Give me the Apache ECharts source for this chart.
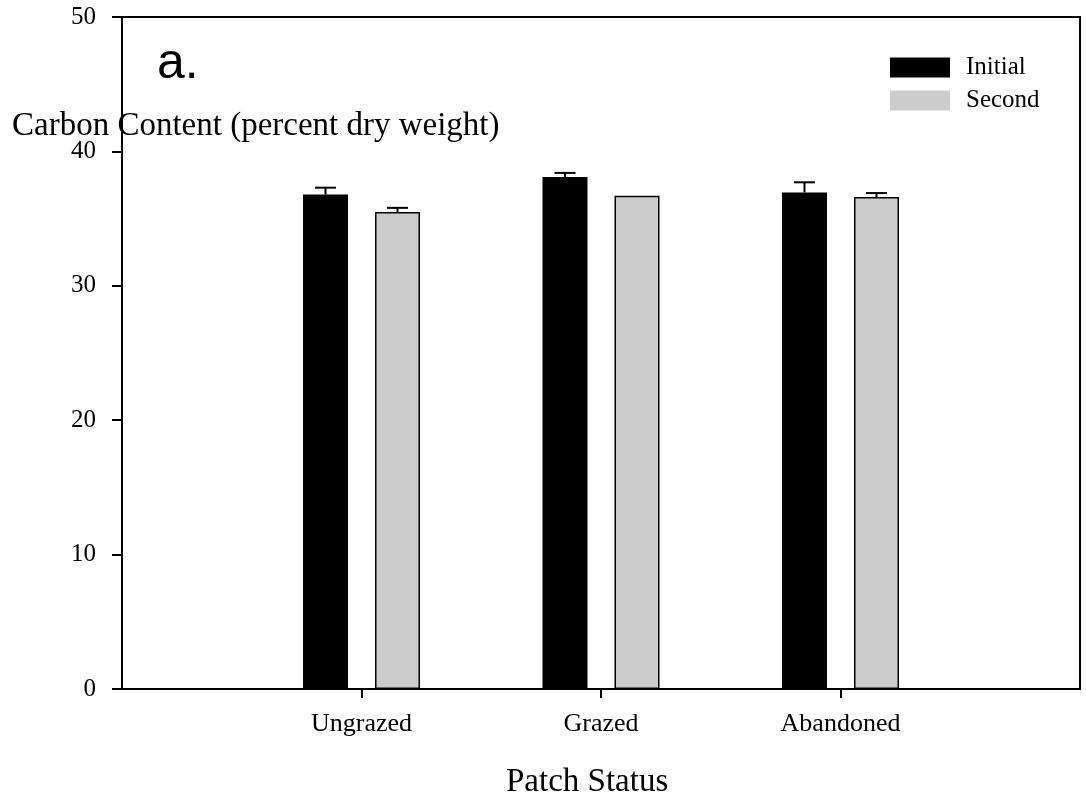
<!DOCTYPE html>
<html>
<head>
<meta charset="utf-8">
<script src="https://cdn.jsdelivr.net/npm/echarts@6/dist/echarts.min.js"></script>
<style>html,body{margin:0;padding:0;background:#fff}#c{width:1086px;height:803px}</style>
</head>
<body>
<div id="c"></div>
<script>
const categories = ['', 'Ungrazed', 'Grazed', 'Abandoned', ''];
const initialValues = [null, 36.8, 38.1, 36.95, null];
const initialErrors = [null, 0.5, 0.3, 0.75, null];
const secondValues = [null, 35.5, 36.7, 36.6, null];
const secondErrors = [null, 0.3, 0, 0.3, null];
const yTicks = [0, 10, 20, 30, 40, 50];

const SERIF = '"Liberation Serif", "Times New Roman", serif';
const BAR_W = 45;
const OFFSET = 36;

function errSeries(name, vals, errs, dx) {
  const data = [];
  vals.forEach((v, i) => { if (v != null && errs[i] > 0) data.push([i, v, errs[i]]); });
  return {
    type: 'custom',
    name: name + '_err',
    z: 1,
    silent: true,
    data: data,
    renderItem: function (params, api) {
      const i = api.value(0), v = api.value(1), e = api.value(2);
      const p0 = api.coord([i, v]);
      const p1 = api.coord([i, v + e]);
      const x = p0[0] + dx;
      const style = { stroke: '#000', lineWidth: 2 };
      return {
        type: 'group',
        children: [
          { type: 'line', shape: { x1: x, y1: p0[1], x2: x, y2: p1[1] }, style: style },
          { type: 'line', shape: { x1: x - 10.5, y1: p1[1], x2: x + 10.5, y2: p1[1] }, style: style }
        ]
      };
    }
  };
}

const chart = echarts.init(document.getElementById('c'));
chart.setOption({
  animation: false,
  backgroundColor: '#fff',
  grid: { left: 122, right: 6, top: 17, bottom: 114, show: true, borderColor: '#000', borderWidth: 2, containLabel: false },
  legend: {
    orient: 'vertical',
    left: 890, top: 55, padding: 0,
    itemWidth: 60, itemHeight: 20, itemGap: 8,
    icon: 'rect',
    textStyle: { fontFamily: SERIF, fontSize: 25, color: '#000', padding: [0, 0, 0, 11] },
    data: [
      { name: 'Initial', itemStyle: { borderWidth: 0 } },
      { name: 'Second', itemStyle: { borderWidth: 0 } }
    ]
  },
  graphic: [
    { type: 'text', left: 12, top: 110, style: { text: 'Carbon Content (percent dry weight)', font: '33px ' + SERIF, fill: '#000' }, z: 100 },
    { type: 'text', left: 157, top: 39, style: { text: 'a.', font: '50px "Liberation Sans", Arial, sans-serif', fill: '#000' }, z: 100 },
    { type: 'text', left: 506, top: 766, style: { text: 'Patch Status', font: '33px ' + SERIF, fill: '#000' }, z: 100 }
  ],
  xAxis: {
    type: 'category',
    data: categories,
    boundaryGap: false,
    axisLine: { lineStyle: { color: '#000', width: 2 } },
    axisTick: { show: true, inside: false, length: 9, lineStyle: { color: '#000', width: 2 }, interval: function (idx, val) { return val !== ''; } },
    axisLabel: { fontFamily: SERIF, fontSize: 26, color: '#000', margin: 22, interval: 0 },
    splitLine: { show: false }
  },
  yAxis: {
    type: 'value',
    min: yTicks[0], max: yTicks[yTicks.length - 1], interval: 10,
    axisLine: { show: true, lineStyle: { color: '#000', width: 2 } },
    axisTick: { show: true, inside: false, length: 10, lineStyle: { color: '#000', width: 2 } },
    axisLabel: { fontFamily: SERIF, fontSize: 25, color: '#000', margin: 26 },
    splitLine: { show: false }
  },
  series: [
    { name: 'Initial', type: 'bar', data: initialValues, barWidth: BAR_W, barGap: '60%', itemStyle: { color: '#000' }, z: 2 },
    { name: 'Second', type: 'bar', data: secondValues, barWidth: BAR_W, itemStyle: { color: '#cccccc', borderColor: '#000', borderWidth: 1.5 }, z: 2 },
    errSeries('Initial', initialValues, initialErrors, -OFFSET),
    errSeries('Second', secondValues, secondErrors, OFFSET)
  ]
});
</script>
</body>
</html>
